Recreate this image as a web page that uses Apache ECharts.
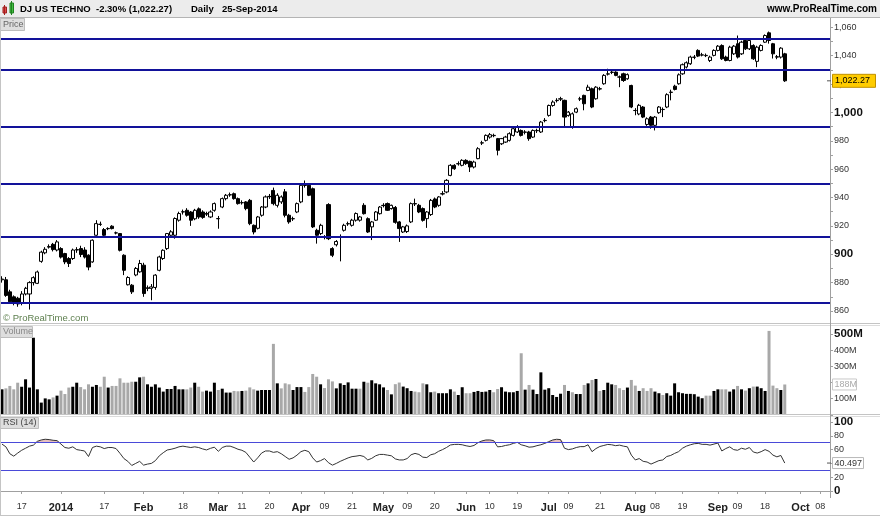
<!DOCTYPE html>
<html><head><meta charset="utf-8">
<script src="https://cdn.jsdelivr.net/npm/echarts@6/dist/echarts.min.js"></script>
<style>html,body{margin:0;padding:0;background:#fff}#c{width:880px;height:516px}</style>
</head><body><div id="c"></div>
<script>
// ---------- DATA ----------
const startDate = '2013-12-10';
const lastAxisDate = '2014-10-10';
const holidays = ['2013-12-25','2014-01-01','2014-01-20','2014-02-17','2014-04-18','2014-05-26','2014-07-04','2014-09-01'];

const openP = [
882,882,873.5,870,869,866,872,872,880,879.5,
895,901,905,907,903,904,900.5,897,897,903,
904,903,899.3,894.6,913.4,921,917.4,918,919.8,915,
914.6,899.3,878.5,878.2,885.4,887.6,892.3,876,876,876.6,
888.7,897,904,913.4,913.4,924,929.8,931,929.8,925,
932,929.8,928.4,926.3,931,925,933.3,939.2,941.8,942.7,
939.2,936.3,936.9,938,920.4,918.3,927.5,933.3,940.6,945,
934.5,936.9,944,927.5,925,929.8,936.9,948.6,948.6,946.2,
916.9,914.6,912,935,904,906.7,912,916.9,921.4,920.4,
924,924,934.5,925.1,919.3,924,928.6,934.3,935.7,932.2,
933,922.8,915.7,916,922.8,935.7,934.5,932.2,925.1,928,
939,934.5,942.5,943.9,955.6,962.7,963.7,962.7,966.2,965.5,
961.5,967.4,978.4,980.3,982.6,983.6,981.5,977.9,979.1,980.3,
983.8,986.2,987.3,986,986.2,982.6,987.1,986.2,994.2,997.9,
1004.9,1008.3,1009.4,1008.5,997.9,990,1000.2,1009.4,1012,1015.5,
1016.7,1009.6,1016.5,1020.2,1027,1028.2,1028.4,1025,1027.2,1023.7,
1019,1001.4,998.9,1003.8,991.5,996.7,990.9,999.8,1002,1003.8,
1014.1,1018.5,1020.2,1027.2,1032,1034.3,1038.8,1043.7,1040.4,1040,
1036.6,1040.2,1043.7,1047.2,1039,1036.6,1041.3,1048.4,1041.3,1050.7,
1044.8,1047.2,1036,1043.7,1049.5,1056.1,1048.4,1039.2,1039,1041.3];

const closeP = [
882.5,871,866.5,865.5,865,872,876,880,883.5,887.5,
901.5,903.5,905.5,903.3,908.7,898,894.6,893.5,903,903.3,
899.8,898,891,909.9,921.6,921.2,913.4,918.2,918.1,915.1,
902.8,888.7,883.6,873.5,890,893.5,872.3,876.3,877,885.3,
898.1,902.8,914.6,915.8,925.2,928.7,930,927.5,924,931,
926.3,926,928.6,929.8,935.7,925.2,939.2,941.6,942,939.2,
935.7,936.4,932.2,921.6,915.7,926.3,933.3,940.4,940.8,935.7,
941.6,940.4,927.5,922.8,925.1,935.7,948.6,948.5,941.6,919.3,
913.4,920.4,912.2,911,899.3,909,912.4,920.4,921.6,924,
928.7,926.3,928.6,915.7,922.8,929.8,933.3,934.5,931,934.5,
922.5,918.1,919.3,920,935.7,935.5,929.8,923.9,929.8,938,
933.3,940.4,942.7,952.1,962.7,960.3,963.9,966.2,963.9,961.5,
965,974.4,978.6,983.8,984.3,983.8,973.3,981.5,982.6,985,
988.5,989.7,983.8,986.2,981.5,987.3,987.3,993.2,994.4,1004.9,
1007.3,1008.5,1009.6,996.7,1000.2,999,1002.6,1009.6,1006.1,1017.8,
1003.8,1017.8,1016.7,1026.1,1027.2,1028.4,1026.1,1024.9,1022.5,1026.6,
1003.8,1001.3,1005,996.7,995.5,990.9,996.7,1003.8,1002.1,1012.5,
1014.3,1016.2,1026.5,1033.6,1035,1039,1039,1039.7,1040.6,1040.2,
1039,1043.7,1046.7,1037.8,1036.6,1046,1046.7,1039,1049.5,1044.8,
1050.7,1037.8,1046,1047.2,1054.2,1050.7,1041.3,1039,1045.3,1022.27];

const lowP = [
880,870,865,864,863,864,871,861,878,879,
894,900,904,902,902,897,893,891,896,901,
898,897,888.7,894,913,920,912,917,917.5,914,
902,885.3,878,872,884.5,887,870,874,867.6,875,
888,896,903,912,911,923,928,926.5,920,924,
925,925,927,925.5,930,918,932.5,938,940.5,938.5,
935,935,931,920.5,914,917.5,926.5,932.5,939,934.5,
933,935.5,926,921.5,923.5,929,936,947,941,918.5,
907.5,913.5,910.5,910,898,905.5,895,916,920,919.5,
923,923,928,915,910,923.5,928,933,930.5,931.5,
921.5,908.7,915,915,922,934,929,923,918.6,927,
932.5,933.5,941.5,943,955,959.5,962.5,962,963,958,
960.5,967,977,979.5,981.5,982.5,969.7,977,978.5,979.5,
983,985.5,983,984.5,980,982,985.5,985.5,993,997,
1004,1007,1008,989.7,997,988.5,999.5,1008,1001.5,1015,
1003,1009,1015.5,1019.5,1026,1027,1025.5,1017.8,1021.5,1023,
1003,998,998,996,990.5,988.5,987.3,999,996.7,1003,
1008.5,1015.5,1019.5,1026.5,1031,1033.5,1037.5,1039,1039.5,1039,
1035.5,1039.5,1043,1037,1036,1036,1040.5,1038,1040.5,1044,
1044,1037,1031.9,1043,1049,1048.5,1038,1037.5,1038,1021.5];

const highP = [
884.5,884,875,871,870,874,877,881,884.5,888.5,
902.5,905,907,908,910,905,901,898,904,905,
906,905,900,910.5,924,923,918.5,919,920.5,916,
915,900,884.5,879,891,896,894,878,879,886,
899,903.5,915,917,926,930,931.5,932.5,930.5,932,
933,931,930,931,936.5,927,940,942.5,943.5,943.5,
940,938,937.5,939,921,927,934,941.5,942.5,947,
943,941.5,946,928.5,926.5,936.5,949.5,952,949.5,947,
918,921.5,913.5,936,905,910,914,921.5,923,925,
929.5,927,936,926,923.5,930.5,934,936,936.5,935,
934,923.5,920,921,936.5,939.2,935.5,933,930.5,939,
940,941,944.5,953,963.5,963.5,965.5,967,967,966,
966,975.5,980,984.5,985.5,985,982,982,983.5,986,
989.5,991,988,987.5,987,988,988.5,994,996,1005.5,
1008.5,1010,1011,1009,1001,1000,1003.5,1011,1012.5,1019.5,
1017.5,1018.5,1018,1027,1030.8,1029.5,1029,1026,1028,1027.5,
1019.5,1003,1006,1004.5,996.5,997.5,997.5,1004.5,1003.5,1013.5,
1016,1019.5,1027.5,1034.5,1036,1040,1040.5,1044.5,1042,1041.5,
1040,1044.5,1047.5,1048,1040,1047,1047.5,1054.2,1050.5,1051.5,
1051.5,1048,1047,1048,1055,1057,1049,1040.5,1046,1042];

const volumeM = [
158,164,179,158,199,174,220,169,477,158,
76,102,96,108,119,150,129,169,174,199,
172,158,189,174,185,174,236,169,179,179,
226,199,199,205,205,232,236,189,174,189,
169,144,160,160,179,158,158,158,169,199,
174,144,150,144,199,154,162,138,138,148,
146,148,150,170,158,150,154,154,154,439,
195,164,195,189,154,172,172,142,172,253,
236,189,166,220,207,164,195,185,201,162,
162,162,205,199,214,195,189,170,154,127,
190,200,175,165,148,144,140,195,189,140,
144,134,134,134,158,144,123,171,134,134,
142,148,142,144,154,140,160,171,144,140,
140,148,381,156,185,156,129,263,156,165,
123,111,131,185,148,140,129,129,185,195,
216,222,148,154,199,189,185,165,154,169,
216,181,148,165,148,165,144,134,123,134,
119,195,140,134,130,130,128,113,103,119,
119,148,158,158,158,144,158,179,158,150,
165,175,175,165,148,519,181,165,154,188];

const rsi14 = [
68,64,54,50.5,55,59,62,65,66.5,72,
74,75,74.5,73.5,73,68,63,62,64,60,
59,58,50,63,65,64,61.5,63,63,61.5,
54.6,47,43,37,40,43,37.5,39,40,44,
51,55.5,59.4,60.5,62,64,65,64,63,64,
63,61,59.5,61.8,63.5,57.5,63,65,65,63,
60.5,59,56,49,42,48,55,58,58,56,
57,54,50,46,48,52,57,59,57,48,
42,44,47,41,37.5,40,43,45.5,48,49.8,
50.5,51.5,50,45,47.3,51,53,53,52,51,
46.5,45,45,47,52.5,54.5,53,49,48.5,52.5,
54,57.5,60,63,66.7,67.5,67.6,67,65.5,64.5,
66,70,72.5,73.9,74,73,64,64.5,66,67,
69,70.5,67,65.5,63.5,64,65.7,67,69,71.5,
73.9,75,74.5,62,60,61,63,64.3,64.3,67,
57,61.5,64.5,66,67.5,67,65.7,66.5,65,64,
52,45,47,43,42,39,41.5,44,45,50,
51.5,54.5,57,62,65,67,68.5,69,67.6,67.6,
66.5,68,69.5,58,61.5,64,60,59,62,60.5,
63,56.5,55,57,60,57.5,52,49.5,51.5,40.497];

const priceLevels = [1051.9, 1030, 990, 949.5, 912, 865.5];
const rsiLevels = [70, 30];

const xTickLabels = [
['2013-12-17','17'],['2014-01-02','2014'],['2014-01-17','17'],['2014-02-03','Feb'],['2014-02-18','18'],
['2014-03-03','Mar'],['2014-03-11','11'],['2014-03-20','20'],['2014-04-01','Apr'],['2014-04-09','09'],
['2014-04-21','21'],['2014-05-01','May'],['2014-05-09','09'],['2014-05-20','20'],['2014-06-02','Jun'],
['2014-06-10','10'],['2014-06-19','19'],['2014-07-01','Jul'],['2014-07-09','09'],['2014-07-21','21'],
['2014-08-01','Aug'],['2014-08-08','08'],['2014-08-19','19'],['2014-09-02','Sep'],['2014-09-09','09'],
['2014-09-18','18'],['2014-10-01','Oct'],['2014-10-08','08']];

const titleParts = ['DJ US TECHNO', '-2.30% (1,022.27)', 'Daily', '25-Sep-2014'];

// ---------- BUILD ----------
function tradingDays(start, end, hol) {
  const out = []; const d = new Date(start + 'T00:00:00Z'); const e = new Date(end + 'T00:00:00Z');
  while (d <= e) {
    const s = d.toISOString().slice(0, 10); const w = d.getUTCDay();
    if (w !== 0 && w !== 6 && !hol.includes(s)) out.push(s);
    d.setUTCDate(d.getUTCDate() + 1);
  }
  return out;
}
const dates = tradingDays(startDate, lastAxisDate, holidays);
const tickMap = new Map(xTickLabels);
const FONT = '"Liberation Sans", Arial, sans-serif';
const AX = '#a0a0a0';

const L = 0, R = 50;
const priceTop = 27.3, priceH = 283.7;
const volTop = 334, volH = 80.9;
const rsiTop = 422, rsiH = 69;

const fmtNum = v => v.toLocaleString('en-US');
const chart = echarts.init(document.getElementById('c'), null, {width: 880, height: 516});

const hiddenX = (gi) => ({type: 'category', gridIndex: gi, data: dates, boundaryGap: true,
  axisLine: {show: false}, axisTick: {show: false}, axisLabel: {show: false}, splitLine: {show: false}});

const yBase = (gi, min, max, interval, fmt) => ({
  type: 'value', gridIndex: gi, position: 'right', min, max, interval, scale: false,
  axisLine: {show: false},
  axisTick: {show: true, length: 3, lineStyle: {color: AX}},
  splitLine: {show: false},
  axisLabel: {margin: 4, formatter: fmt,
    rich: {n: {fontFamily: FONT, fontSize: 9, color: '#333'},
           b: {fontFamily: FONT, fontSize: 11.5, fontWeight: 'bold', color: '#111'}}}
});

// volume bar tone: dark on a rising close, light grey on a falling close
const volColor = (i) => (i === 0 || closeP[i] >= closeP[i - 1]) ? '#000' : '#a8a8a8';

const option = {
  animation: false,
  backgroundColor: '#fff',
  grid: [
    {left: L, right: R, top: priceTop, height: priceH},
    {left: L, right: R, top: volTop, height: volH},
    {left: L, right: R, top: rsiTop, height: rsiH}
  ],
  xAxis: [hiddenX(0), hiddenX(1), {
    type: 'category', gridIndex: 2, data: dates, boundaryGap: true, offset: 7,
    axisLine: {show: true, lineStyle: {color: AX}},
    axisTick: {show: true, alignWithLabel: true, length: 3, interval: (i, v) => tickMap.has(v), lineStyle: {color: AX}},
    axisLabel: {margin: 4, interval: (i, v) => tickMap.has(v),
      formatter: (v) => { const t = tickMap.get(v) || ''; return /^\d\d$/.test(t) ? '{d|' + t + '}' : '{m|' + t + '}'; },
      rich: {d: {fontFamily: FONT, fontSize: 9, color: '#333'},
             m: {fontFamily: FONT, fontSize: 11, fontWeight: 'bold', color: '#222'}}},
    splitLine: {show: false}
  }],
  yAxis: [
    Object.assign(yBase(0, 860, 1060, 20, v => (v % 100 === 0 ? '{b|' : '{n|') + fmtNum(v) + '}'),
      {minorTick: {show: true, splitNumber: 2, length: 3, lineStyle: {color: AX}}}),
    yBase(1, 0, 500, 100, v => (v === 0 || v === 200) ? '' : (v === 500 ? '{b|500M}' : '{n|' + v + 'M}')),
    yBase(2, 0, 100, 20, v => v === 40 ? '' : ((v === 0 || v === 100) ? '{b|' + v + '}' : '{n|' + v + '}'))
  ],
  series: [
    {
      type: 'candlestick', xAxisIndex: 0, yAxisIndex: 0, barWidth: 3.6, clip: false,
      data: openP.map((o, i) => [o, closeP[i], lowP[i], highP[i]]),
      itemStyle: {color: '#fff', color0: '#000', borderColor: '#000', borderColor0: '#000', borderWidth: 1},
      markLine: {silent: true, symbol: 'none', label: {show: false},
        lineStyle: {color: '#12129a', width: 2, type: 'solid'},
        data: priceLevels.map(v => ({yAxis: v}))}
    },
    {
      type: 'bar', xAxisIndex: 1, yAxisIndex: 1, barWidth: 3, clip: false,
      data: volumeM.map((v, i) => ({value: v, itemStyle: {color: volColor(i)}}))
    },
    {
      type: 'line', xAxisIndex: 2, yAxisIndex: 2, symbol: 'none', silent: true,
      data: rsi14.map(v => Math.max(v, 70)),
      lineStyle: {width: 0}, areaStyle: {origin: 70, color: 'rgba(190,90,90,0.55)'}
    },
    {
      type: 'line', xAxisIndex: 2, yAxisIndex: 2, symbol: 'none',
      data: rsi14, lineStyle: {color: '#333', width: 1},
      markLine: {silent: true, symbol: 'none', label: {show: false},
        lineStyle: {color: '#4a4ad8', width: 1, type: 'solid'},
        data: rsiLevels.map(v => ({yAxis: v}))}
    }
  ]
};
chart.setOption(option);

// ---------- decorations ----------
const last = closeP.length - 1;
const yP = chart.convertToPixel({yAxisIndex: 0}, closeP[last]);
const yV = chart.convertToPixel({yAxisIndex: 1}, volumeM[last]);
const yR = chart.convertToPixel({yAxisIndex: 2}, rsi14[last]);
const txt = (x, y, text, font, fill, align) => ({type: 'text', x, y, z: 100,
  style: {text, font, fill, textAlign: align || 'left', textVerticalAlign: 'middle', verticalAlign: 'middle'}});
const rect = (x, y, w, h, fill, stroke) => ({type: 'rect', z: 90, shape: {x, y, width: w, height: h},
  style: {fill, stroke: stroke || null, lineWidth: 1}});
const line = (x1, y1, x2, y2, stroke, w) => ({type: 'line', z: 95, shape: {x1, y1, x2, y2}, style: {stroke, lineWidth: w || 1}});

const TF = 'bold 9.5px ' + FONT;
const g = [
  rect(0, 0, 880, 17, '#ececec'),
  line(0, 17.5, 880, 17.5, '#b4b4b4'),
  line(4.5, 5, 4.5, 15, '#a02020'), rect(3, 7, 3.5, 6, '#e04848', '#a02020'),
  line(11.5, 1, 11.5, 15, '#208020'), rect(10, 3, 3.5, 10, '#40c040', '#208020'),
  txt(20, 9.5, titleParts[0], TF, '#000'),
  txt(96, 9.5, titleParts[1], TF, '#000'),
  txt(191, 9.5, titleParts[2], TF, '#000'),
  txt(222, 9.5, titleParts[3], TF, '#000'),
  txt(877, 9.5, 'www.ProRealTime.com', 'bold 10px ' + FONT, '#000', 'right'),
  rect(0.5, 18.5, 24, 12, '#dedede', '#bdbdbd'), txt(3, 24.5, 'Price', '9px ' + FONT, '#666'),
  txt(3, 318.5, '\u00a9 ProRealTime.com', '9.5px ' + FONT, '#5d7f4e'),
  line(0, 323.5, 880, 323.5, '#c4c4c4'), line(0, 325.5, 880, 325.5, '#dcdcdc'),
  rect(0.5, 326.5, 32, 11, '#dedede', '#bdbdbd'), txt(3, 332, 'Volume', '9px ' + FONT, '#888'),
  line(0, 414.5, 880, 414.5, '#c4c4c4'), line(0, 416.5, 880, 416.5, '#dcdcdc'),
  rect(0.5, 417.5, 38, 11, '#dedede', '#bdbdbd'), txt(3, 423, 'RSI (14)', '9px ' + FONT, '#444'),
  line(830.5, 18, 830.5, 498, AX),
  line(0.5, 18, 0.5, 516, '#c4c4c4'),
  line(0, 515.5, 880, 515.5, '#c4c4c4'),
  line(827, yP, 831, yP, '#555'),
  rect(832.5, yP - 6.5, 43, 13, '#ffcc00', '#c09000'),
  txt(835, yP, fmtNum(closeP[last]), '9px ' + FONT, '#000'),
  rect(832.5, yV - 5.5, 24, 11, '#fff', '#c8c8c8'),
  txt(834.5, yV, Math.round(volumeM[last]) + 'M', '9px ' + FONT, '#aaa'),
  line(827, yR, 831, yR, '#555'),
  rect(832.5, yR - 5.5, 31, 11, '#fff', '#b8b8b8'),
  txt(834.5, yR, rsi14[last].toFixed(3), '9px ' + FONT, '#333')
];
chart.setOption({graphic: {elements: g}});
</script></body></html>
